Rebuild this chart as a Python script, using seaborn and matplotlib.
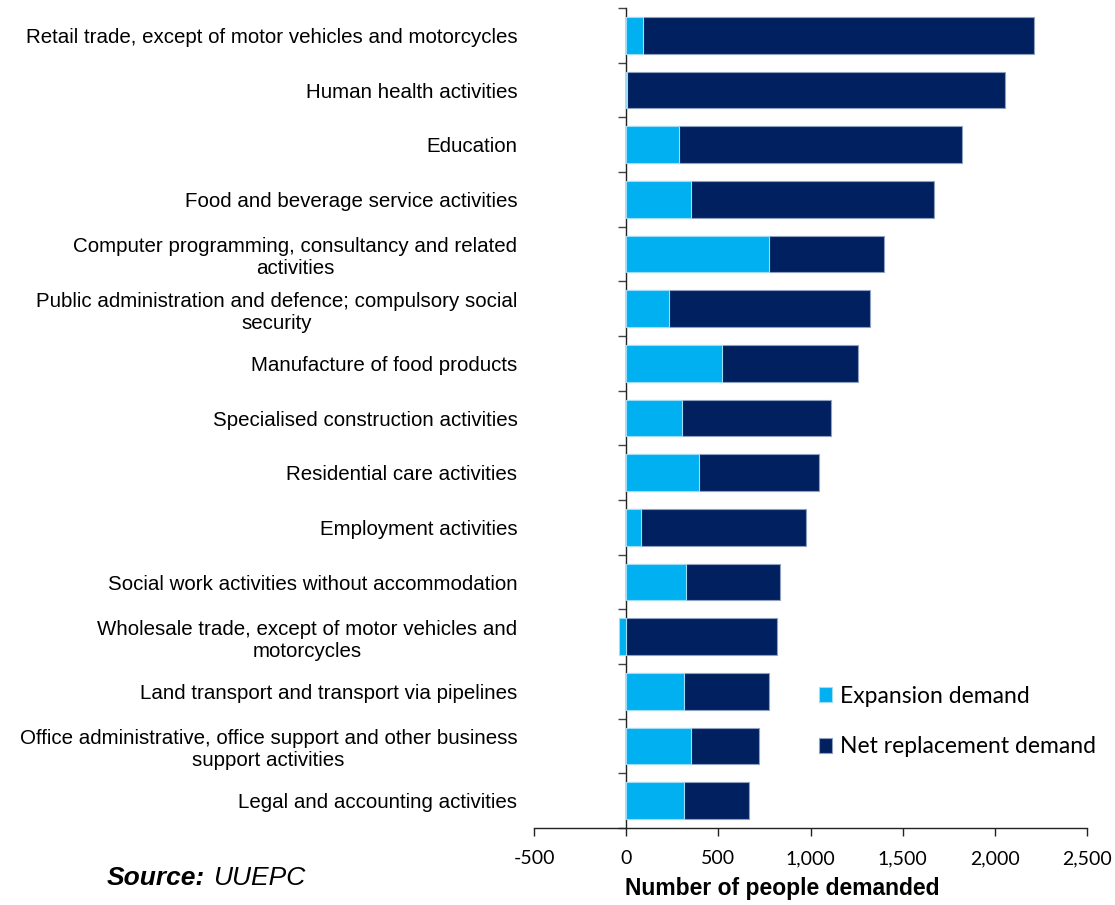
import numpy as np
import matplotlib
matplotlib.use("Agg")
import matplotlib.pyplot as plt
import matplotlib.ticker as mticker
import seaborn as sns

# values
sectors = [
    "Retail trade, except of motor vehicles and motorcycles",
    "Human health activities",
    "Education",
    "Food and beverage service activities",
    "Computer programming, consultancy and related\nactivities",
    "Public administration and defence; compulsory social\nsecurity",
    "Manufacture of food products",
    "Specialised construction activities",
    "Residential care activities",
    "Employment activities",
    "Social work activities without accommodation",
    "Wholesale trade, except of motor vehicles and\nmotorcycles",
    "Land transport and transport via pipelines",
    "Office administrative, office support and other business\nsupport activities",
    "Legal and accounting activities",
]
expansion = [90, 5, 286, 350, 772, 230, 518, 305, 397, 79, 322, -40, 311, 350, 311]
net_replacement = [2122, 2048, 1533, 1318, 626, 1092, 739, 803, 650, 898, 514, 817, 461, 372, 355]

expansion_colour = "#00B0F0"
net_colour = "#002060"

sns.set_theme(style="white")
plt.rcParams["font.family"] = ["Liberation Sans", "DejaVu Sans"]
plt.rcParams["text.color"] = "black"
plt.rcParams["axes.labelcolor"] = "black"
plt.rcParams["xtick.color"] = "black"
plt.rcParams["ytick.color"] = "black"

exp = np.array(expansion)
stack_end = np.clip(exp, 0, None) + np.array(net_replacement)

fig = plt.figure(figsize=(11.15, 9.05), dpi=100)
ax = fig.add_axes([0.479, 0.085, 0.496, 0.906])

sns.barplot(x=stack_end, y=sectors, color=net_colour, orient="h", width=0.67,
            edgecolor="#8fa0c0", linewidth=0.8, saturation=1,
            label="Net replacement demand", ax=ax)
sns.barplot(x=exp, y=sectors, color=expansion_colour, orient="h", width=0.67,
            edgecolor="#9fdcf5", linewidth=0.8, saturation=1,
            label="Expansion demand", ax=ax)

ax.set_xlim(-500, 2500)
ax.set_ylim(14.5, -0.5)
ax.set_xticks(np.arange(-500, 2501, 500))
ax.xaxis.set_major_formatter(mticker.FuncFormatter(lambda v, p: f"{v:,.0f}"))
for lab in ax.get_xticklabels():
    lab.set_family(["Lato", "DejaVu Sans"])
    lab.set_fontsize(14)
ax.tick_params(axis="x", direction="out", length=6, width=1, color="#222222", pad=10, bottom=True)
ax.tick_params(axis="y", length=0, pad=12, labelsize=14.8, colors="black")
for lab in ax.get_yticklabels():
    lab.set_multialignment("center")

for side in ["top", "right", "left"]:
    ax.spines[side].set_visible(False)
ax.spines["bottom"].set_color("#222222")
ax.spines["bottom"].set_linewidth(1)

# category axis drawn at x = 0 with ticks between the categories
zero_pos = (0 - (-500)) / 3000
yax = ax.secondary_yaxis(zero_pos)
yax.set_yticks(np.arange(-0.5, 15, 1))
yax.set_yticklabels([])
yax.tick_params(direction="out", length=6, width=1, color="#444444")
yax.spines["left"].set_color("#222222")
yax.spines["left"].set_linewidth(1)

ax.set_xlabel("Number of people demanded", fontsize=16.5, fontweight="bold")
ax.xaxis.set_label_coords(0.448, -0.06)
ax.set_ylabel("")

handles, labels = ax.get_legend_handles_labels()
ax.legend(handles[::-1], labels[::-1], loc="center left", bbox_to_anchor=(0.498, 0.13),
          frameon=False, handlelength=0.6, handleheight=0.6, handletextpad=0.35,
          labelspacing=1.3, borderaxespad=0,
          prop={"family": ["Lato", "DejaVu Sans"], "size": 16.5})

fig.text(0.096, 0.03, "Source:", fontsize=19, fontweight="bold", style="italic", va="center")
fig.text(0.191, 0.03, "UUEPC", fontsize=19, style="italic", va="center")

fig.savefig("out.png", dpi=100)
